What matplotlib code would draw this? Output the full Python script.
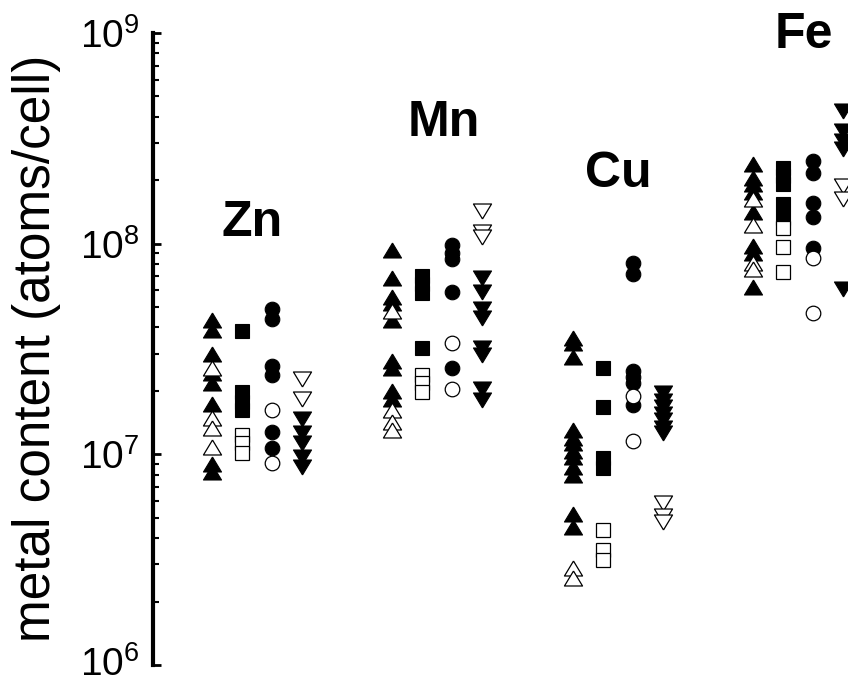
import matplotlib
matplotlib.use('Agg')
import matplotlib.pyplot as plt
import matplotlib.transforms as mtransforms

plt.rcParams['font.family'] = ['Liberation Sans', 'DejaVu Sans']
plt.rcParams['mathtext.fontset'] = 'custom'
plt.rcParams['mathtext.rm'] = 'Liberation Sans'

metals = ['Zn', 'Mn', 'Cu', 'Fe']

# metal content, atoms/cell, one list per metal for each symbol
up_filled = {
    'Zn': [4.36e7, 3.91e7, 2.98e7, 2.42e7, 2.19e7, 1.73e7, 8.97e6, 8.2e6],
    'Mn': [9.37e7, 6.90e7, 5.61e7, 5.20e7, 4.36e7, 2.76e7, 2.58e7, 1.99e7, 1.84e7],
    'Cu': [3.55e7, 3.36e7, 2.91e7, 1.31e7, 1.20e7, 1.13e7, 1.04e7, 9.7e6, 8.7e6,
           7.95e6, 5.2e6, 4.51e6],
    'Fe': [2.39e8, 2.06e8, 1.92e8, 1.75e8, 1.42e8, 9.79e7, 9.06e7, 6.25e7],
}
up_open = {
    'Zn': [2.58e7, 1.48e7, 1.33e7, 1.08e7],
    'Mn': [4.81e7, 1.62e7, 1.43e7, 1.31e7],
    'Cu': [2.88e6, 2.58e6],
    'Fe': [1.63e8, 1.23e8, 8.13e7, 7.62e7],
}
sq_filled = {
    'Zn': [3.83e7, 1.97e7, 1.78e7, 1.63e7],
    'Mn': [7.05e7, 6.46e7, 5.86e7, 3.21e7],
    'Cu': [2.58e7, 1.67e7, 9.57e6, 8.59e6],
    'Fe': [2.29e8, 2.10e8, 1.92e8, 1.55e8, 1.33e8],
}
sq_open = {
    'Zn': [1.24e7, 1.13e7, 1.01e7],
    'Mn': [2.39e7, 2.17e7, 1.97e7],
    'Cu': [4.36e6, 3.51e6, 3.15e6],
    'Fe': [1.19e8, 9.68e7, 7.36e7],
}
circ_filled = {
    'Zn': [4.9e7, 4.41e7, 2.64e7, 2.37e7, 1.27e7, 1.07e7],
    'Mn': [9.89e7, 9.06e7, 8.49e7, 5.92e7, 2.56e7],
    'Cu': [8.13e7, 7.21e7, 2.50e7, 2.32e7, 2.17e7, 1.71e7],
    'Fe': [2.47e8, 2.17e8, 1.56e8, 1.34e8, 9.57e7],
}
circ_open = {
    'Zn': [1.62e7, 9.1e6],
    'Mn': [3.36e7, 2.05e7],
    'Cu': [1.90e7, 1.16e7],
    'Fe': [8.59e7, 4.71e7],
}
down_filled = {
    'Zn': [1.47e7, 1.26e7, 1.13e7, 9.7e6, 8.7e6],
    'Mn': [6.90e7, 5.92e7, 4.9e7, 4.46e7, 3.18e7, 2.95e7, 2.05e7, 1.82e7],
    'Cu': [1.95e7, 1.80e7, 1.67e7, 1.56e7, 1.45e7, 1.34e7, 1.26e7],
    'Fe': [4.27e8, 3.43e8, 3.08e8, 2.82e8, 6.12e7],
}
down_open = {
    'Zn': [2.27e7, 1.84e7],
    'Mn': [1.43e8, 1.14e8, 1.07e8],
    'Cu': [5.86e6, 5.08e6, 4.76e6],
    'Fe': [1.88e8, 1.63e8],
}

# triangles in the original are a bit wider than tall
tri_up = [(0, 0.83), (-1, -0.83), (1, -0.83), (0, 0.83)]
tri_down = [(0, -0.83), (-1, 0.83), (1, 0.83), (0, -0.83)]

# (filled data, open data, marker, size)
columns = [
    (up_filled, up_open, tri_up, 13),
    (sq_filled, sq_open, 's', 10),
    (circ_filled, circ_open, 'o', 10.5),
    (down_filled, down_open, tri_down, 13),
]

fig = plt.figure(figsize=(8.48, 6.84), dpi=100)
ax = fig.add_axes([153 / 848., 19 / 684., 695 / 848., 632 / 684.])

for g, metal in enumerate(metals):
    for c, (filled, empty, marker, ms) in enumerate(columns):
        x = 2 + 6 * g + c
        ax.plot([x] * len(filled[metal]), filled[metal], linestyle='none',
                marker=marker, markersize=ms, markerfacecolor='black',
                markeredgecolor='black', markeredgewidth=0.8)
        ax.plot([x] * len(empty[metal]), empty[metal], linestyle='none',
                marker=marker, markersize=ms, markerfacecolor='white',
                markeredgecolor='black', markeredgewidth=0.9)

label_pos = [(3.34, 1.09e8), (9.72, 3.25e8), (15.5, 1.86e8), (21.68, 8.49e8)]
for metal, (lx, ly) in zip(metals, label_pos):
    ax.text(lx, ly, metal, ha='center', va='baseline', fontsize=36,
            fontweight='bold')

ax.set_yscale('log')
ax.set_ylim(1e6, 1e9)
ax.set_xlim(0.05, 23.15)
ax.set_yticks([1e6, 1e7, 1e8, 1e9])

for side in ['top', 'right', 'bottom']:
    ax.spines[side].set_visible(False)
ax.spines['left'].set_linewidth(3)
ax.set_xticks([])
ax.tick_params(axis='y', which='major', direction='in', length=6, width=2,
               labelsize=28, pad=10)
ax.tick_params(axis='y', which='minor', direction='in', length=4, width=1.5)

# lift the lowest tick label a touch so it stays inside the figure
fig.canvas.draw()
for tick in ax.yaxis.get_major_ticks():
    if abs(tick.get_loc() - 1e6) < 1:
        lbl = tick.label1
        lbl.set_transform(lbl.get_transform() +
                          mtransforms.ScaledTranslation(0, 3 / 72., fig.dpi_scale_trans))

fig.text(37 / 848., 1 - 348 / 684., 'metal content (atoms/cell)',
         rotation=90, ha='center', va='center', fontsize=37)

fig.savefig('out.png', dpi=100)
